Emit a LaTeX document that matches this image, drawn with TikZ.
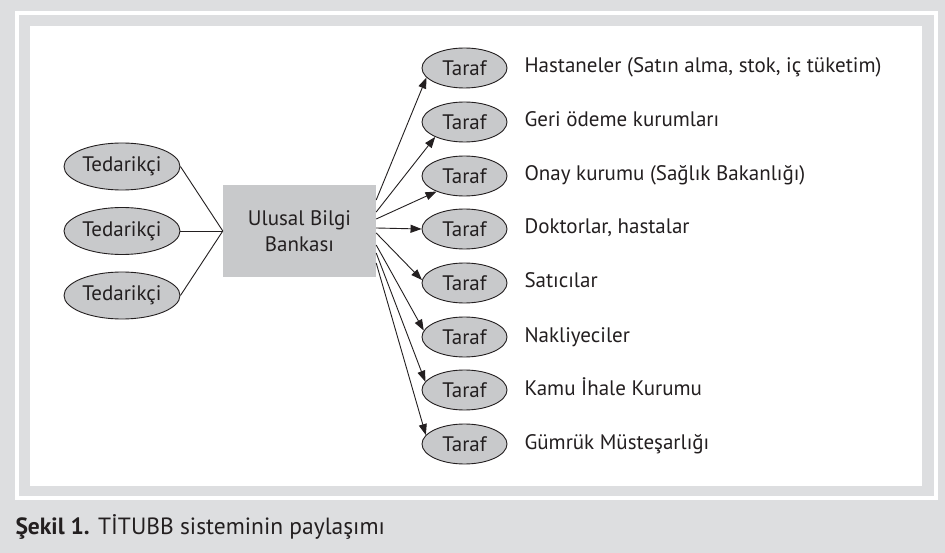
\documentclass[tikz,border=0pt]{standalone}
\usepackage{fontspec}
\setmainfont{PT Sans}
\usetikzlibrary{shapes.geometric,arrows.meta}

\definecolor{pagegray}{RGB}{221,222,224}
\definecolor{nodegray}{RGB}{200,201,203}
\definecolor{inkblack}{RGB}{35,31,32}

\tikzset{
  party/.style={ellipse, draw=inkblack, fill=nodegray, line width=0.9pt,
    minimum width=85pt, minimum height=40pt, inner sep=0pt,
    text=inkblack, font=\fontsize{21}{24}\selectfont},
  supplier/.style={party, minimum width=116pt, minimum height=47pt},
  bankbox/.style={rectangle, fill=nodegray, minimum width=153pt, minimum height=92pt,
    align=center, text=inkblack, font=\fontsize{21}{26}\selectfont},
  desc/.style={anchor=base west, text=inkblack, font=\fontsize{21}{24}\selectfont},
  link/.style={draw=inkblack, line width=0.9pt},
  flow/.style={link, -{Triangle[length=11pt,width=8pt]}},
}

\begin{document}
\begin{tikzpicture}[x=1pt, y=-1pt]
    \useasboundingbox (0,0) rectangle (945,553);

    % frame
    \fill[pagegray] (0,0) rectangle (945,553);
    \draw[white, line width=4pt] (16.5,13.5) rectangle (935.5,498.3);
    \fill[white] (30,26) rectangle (921.7,485.7);

    \node[bankbox] (bank) at (299.5,231) {Ulusal Bilgi\\Bankası};

    % id, y
    \def\supplier#1#2{%
        \node[supplier] (sup#1) at (122,#2) {Tedarikçi};
        \draw[link] (sup#1.east) -- (bank.west);
    }

    % id, y, start shift, end angle, text
    \def\taraf#1#2#3#4#5{%
        \node[party] (party#1) at (464.5,#2) {Taraf};
        \node[desc] (desc#1) at (521,{#2+5}) {#5};
        \draw[flow] ([yshift=#3pt]bank.east) -- (party#1.#4);
    }

    \supplier{1}{166.5}
    \supplier{2}{231}
    \supplier{3}{295.5}

    \taraf{1}{68}{31}{194}{Hastaneler (Satın alma, stok, iç tüketim)}
    \taraf{2}{122}{19}{207}{Geri ödeme kurumları}
    \taraf{3}{176}{12}{209}{Onay kurumu (Sağlık Bakanlığı)}
    \taraf{4}{229}{3}{180}{Doktorlar, hastalar}
    \taraf{5}{283}{-2}{176}{Satıcılar}
    \taraf{6}{337}{-14}{171}{Nakliyeciler}
    \taraf{7}{390}{-22}{168}{Kamu İhale Kurumu}
    \taraf{8}{444}{-32}{167}{Gümrük Müsteşarlığı}

    % caption
    \node[anchor=base west, text=inkblack, font=\fontsize{23.5}{26}\selectfont]
        (caption) at (12,534) {\textbf{Şekil 1.} TİTUBB sisteminin paylaşımı};

\end{tikzpicture}
\end{document}
